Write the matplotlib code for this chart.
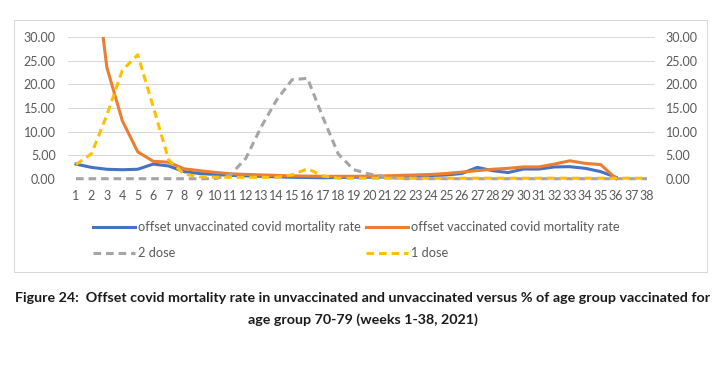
import matplotlib
matplotlib.use('Agg')
import matplotlib.pyplot as plt
import numpy as np
from matplotlib.lines import Line2D
from matplotlib.patches import Rectangle

nan = np.nan
weeks = list(range(1, 39))
week_labels = [str(w) for w in weeks]

unvaccinated = [3.1, 2.4, 2.0, 1.9, 2.0, 3.1, 2.7, 1.5, 1.1, 0.9, 0.7, 0.6, 0.5, 0.4, 0.3,
                0.25, 0.2, 0.25, 0.3, 0.3, 0.35, 0.4, 0.5, 0.6, 0.8, 1.1, 2.4, 1.7, 1.3, 2.05,
                2.05, 2.5, 2.55, 2.2, 1.5, 0.3, nan, nan]
vaccinated = [45.0, 50.0, 23.6, 12.3, 5.7, 3.7, 3.5, 2.1, 1.7, 1.35, 1.05, 0.9, 0.8, 0.7, 0.6,
              0.55, 0.5, 0.5, 0.5, 0.55, 0.6, 0.7, 0.8, 0.9, 1.1, 1.4, 1.7, 2.0, 2.2, 2.5,
              2.5, 3.1, 3.8, 3.25, 3.0, 0.0, nan, nan]
dose2 = [0, 0, 0, 0, 0, 0, 0, 0, 0, 0, 0.8, 4.3, 11.0, 16.7, 21.0,
         21.3, 13.0, 5.2, 1.9, 1.0, 0.4, 0, 0, 0, 0, 0, 0, 0, 0, 0,
         0, 0, 0, 0, 0, 0, 0, 0]
dose1 = [3.0, 5.3, 13.5, 23.0, 26.3, 15.3, 4.0, 1.0, 0.4, 0.35, 0.3, 0.3, 0.3, 0.3, 0.8,
         2.1, 0.6, 0.1, 0.1, 0.1, 0.1, 0.1, 0.1, 0.1, 0.1, 0.1, 0.1, 0.1, 0.1, 0.1,
         0.1, 0.1, 0.1, 0.1, 0.1, 0.1, 0.1, 0.1]
yticks = [0, 5, 10, 15, 20, 25, 30]

BLUE, ORANGE, GRAY, YELLOW = '#4472C4', '#ED7D31', '#A5A5A5', '#FFC000'
TXT = '#595959'
FONT = 'Lato'
LW = 2.2
DASH = (2.5, 1.6)

W, H = 725, 366
fig = plt.figure(figsize=(W / 100, H / 100), dpi=100)

# chart frame
fig.patches.append(Rectangle((14 / W, 1 - 272 / H), (707 - 14) / W, (272 - 20) / H,
                             transform=fig.transFigure, fill=False, edgecolor='#D9D9D9',
                             linewidth=0.75))

left, right, top, bottom = 68.3, 654.7, 37.3, 178.7
ax = fig.add_axes([left / W, 1 - bottom / H, (right - left) / W, (bottom - top) / H])
ax2 = ax.twinx()

for a in (ax, ax2):
    a.set_ylim(0, 30)
    a.set_yticks(yticks)
    a.set_yticklabels([f'{v:.2f}' for v in yticks])
    for s in a.spines.values():
        s.set_visible(False)
    a.tick_params(length=0, labelsize=9, labelcolor=TXT)
    for lab in a.get_yticklabels():
        lab.set_fontfamily(FONT)
ax.tick_params(axis='y', pad=9)
ax2.tick_params(axis='y', pad=8)
ax.set_xlim(0.5, 38.5)
ax.set_xticks(weeks)
ax.set_xticklabels(week_labels, fontfamily=FONT)
ax.tick_params(axis='x', pad=8)
ax.grid(axis='y', color='#D9D9D9', linewidth=0.75)
ax.set_axisbelow(True)

# clip only at the top, so lines lying on 0 keep their full width
def clip_top(line, a):
    r = Rectangle((-0.05, -0.2), 1.1, 1.2, transform=a.transAxes, visible=False)
    line.set_clip_path(r)

l1, = ax.plot(weeks, unvaccinated, color=BLUE, lw=LW, solid_joinstyle='round')
l2, = ax.plot(weeks, vaccinated, color=ORANGE, lw=LW, solid_joinstyle='round')
l3, = ax2.plot(weeks, dose2, color=GRAY, lw=LW, dashes=DASH)
l4, = ax2.plot(weeks, dose1, color=YELLOW, lw=LW, dashes=DASH)
for ln, a in ((l1, ax), (l2, ax), (l3, ax2), (l4, ax2)):
    clip_top(ln, a)

# legend
entries = [
    (93, 227, 'offset unvaccinated covid mortality rate', dict(color=BLUE)),
    (366, 227, 'offset vaccinated covid mortality rate', dict(color=ORANGE)),
    (93, 253, '2 dose', dict(color=GRAY, dashes=DASH)),
    (366, 253, '1 dose', dict(color=YELLOW, dashes=DASH)),
]
for x0, y0, label, style in entries:
    fig.lines.append(Line2D([x0 / W, (x0 + 42) / W], [1 - y0 / H, 1 - y0 / H],
                            transform=fig.transFigure, lw=LW, **style))
    fig.text((x0 + 45) / W, 1 - y0 / H, label, fontsize=9.2, color=TXT, family=FONT,
             va='center', ha='left')

t1 = fig.text(363 / W, 1 - 298 / H,
              'Figure 24:  Offset covid mortality rate in unvaccinated and unvaccinated versus % of age group vaccinated for',
              fontsize=10, fontweight='bold', family=FONT, color='#1a1a1a', ha='center', va='center')
t2 = fig.text(363 / W, 1 - 320 / H, 'age group 70-79 (weeks 1-38, 2021)',
              fontsize=10, fontweight='bold', family=FONT, color='#1a1a1a', ha='center', va='center')
fig.canvas.draw()
w = t1.get_window_extent().width
scale = 694 / w
t1.set_fontsize(10 * scale)
t2.set_fontsize(10 * scale)

fig.savefig('out.png', dpi=100)
